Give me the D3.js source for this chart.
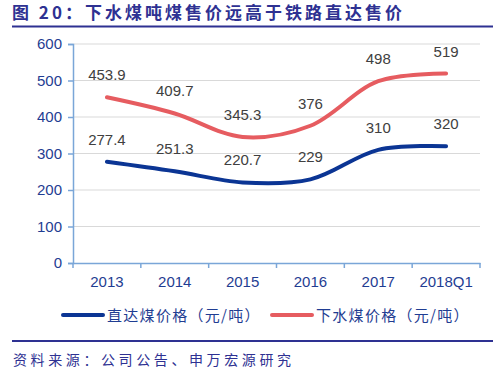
<!DOCTYPE html>
<html>
<head>
<meta charset="utf-8">
<script src="https://cdn.jsdelivr.net/npm/d3@7"></script>
<style>
  body { margin: 0; background: #fff; }
  svg { display: block; }
</style>
</head>
<body>
<svg id="chart"></svg>
<script>
// chart values
const years = ['2013', '2014', '2015', '2016', '2017', '2018Q1'];
const directPrice = [277.4, 251.3, 220.7, 229, 310, 320];
const seaPrice = [453.9, 409.7, 345.3, 376, 498, 519];
const directLabels = ['277.4', '251.3', '220.7', '229', '310', '320'];
const seaLabels = ['453.9', '409.7', '345.3', '376', '498', '519'];
const yTicks = [0, 100, 200, 300, 400, 500, 600];
const seriesNames = ['直达煤价格（元/吨）', '下水煤价格（元/吨）'];

const W = 501, H = 378,
  plot = { l: 73, r: 480, t: 44, b: 263 },
  blue = '#0b3594',
  red = '#e65c60',
  navy = '#2e3192',
  tickBlue = '#1f3d92',
  cjk = '"Noto Sans CJK SC", "Noto Sans", sans-serif',
  latin = '"Liberation Sans", Arial, sans-serif';

const $svg = d3.select('#chart').attr('width', W).attr('height', H);

// title + rules
$svg.append('text')
  .text('图 20：下水煤吨煤售价远高于铁路直达售价')
  .attr('x', 12).attr('y', 19)
  .attr('font-family', cjk)
  .attr('font-size', 17)
  .attr('font-weight', 'bold')
  .attr('letter-spacing', 3)
  .attr('fill', navy);
$svg.append('line')
  .attr('x1', 12).attr('x2', 493).attr('y1', 26.5).attr('y2', 26.5)
  .attr('stroke', navy).attr('stroke-width', 2);
$svg.append('line')
  .attr('x1', 12).attr('x2', 493).attr('y1', 341).attr('y2', 341)
  .attr('stroke', navy).attr('stroke-width', 2);
$svg.append('text')
  .text('资料来源：公司公告、申万宏源研究')
  .attr('x', 13).attr('y', 365)
  .attr('font-family', cjk)
  .attr('font-size', 14)
  .attr('letter-spacing', 3.6)
  .attr('fill', navy);

const xScale = d3.scaleBand().domain(years).range([plot.l, plot.r]),
  yScale = d3.scaleLinear().domain([0, 600]).range([plot.b, plot.t]);

// grid
$svg.append('g')
  .selectAll('line')
  .data(yTicks.filter((d) => d > 0))
  .enter()
  .append('line')
  .attr('x1', plot.l).attr('x2', plot.r)
  .attr('y1', (d) => yScale(d)).attr('y2', (d) => yScale(d))
  .attr('stroke', '#d9d9d9').attr('stroke-width', 1);

// y axis
const $yAxis = $svg.append('g')
  .attr('transform', 'translate(' + plot.l + ',0)')
  .call(d3.axisLeft(yScale).tickValues(yTicks).tickSize(5).tickPadding(6));
$yAxis.select('.domain').attr('stroke', '#7aa6d8').attr('stroke-width', 1.5);
$yAxis.selectAll('.tick line').attr('stroke', '#7aa6d8').attr('stroke-width', 1.5);
$yAxis.selectAll('.tick text')
  .attr('fill', tickBlue).attr('font-size', 15).attr('font-family', latin);

// x axis
const $xAxis = $svg.append('g')
  .attr('transform', 'translate(0,' + plot.b + ')')
  .call(d3.axisBottom(xScale).tickSize(0).tickPadding(13));
$xAxis.select('.domain').attr('stroke', '#7aa6d8').attr('stroke-width', 1.5);
$xAxis.selectAll('.tick text')
  .attr('fill', tickBlue).attr('font-size', 15).attr('font-family', latin);
$xAxis.selectAll('.sep')
  .data(d3.range(years.length + 1))
  .enter()
  .append('line')
  .attr('x1', (i) => plot.l + i * xScale.step())
  .attr('x2', (i) => plot.l + i * xScale.step())
  .attr('y1', 0).attr('y2', 5)
  .attr('stroke', '#7aa6d8').attr('stroke-width', 1.5);

const cx = (d, i) => xScale(years[i]) + xScale.bandwidth() / 2;
const line = d3.line()
  .x(cx)
  .y((d) => yScale(d))
  .curve(d3.curveCatmullRom.alpha(0.5));

[[seaPrice, red, seaLabels], [directPrice, blue, directLabels]].forEach(([vals, color, labels]) => {
  $svg.append('path')
    .datum(vals)
    .attr('d', line)
    .attr('fill', 'none')
    .attr('stroke', color)
    .attr('stroke-width', 4)
    .attr('stroke-linecap', 'round');
  $svg.append('g')
    .selectAll('text')
    .data(vals)
    .enter()
    .append('text')
    .text((d, i) => labels[i])
    .attr('x', cx)
    .attr('y', (d) => yScale(d) - 17)
    .attr('text-anchor', 'middle')
    .attr('font-size', 15)
    .attr('font-family', latin)
    .attr('fill', '#404040');
});

// legend
const legend = [
  { name: seriesNames[0], color: blue, x: 63 },
  { name: seriesNames[1], color: red, x: 272 }
];
const $legend = $svg.append('g').selectAll('g').data(legend).enter().append('g')
  .attr('transform', (d) => 'translate(' + d.x + ',315)');
$legend.append('line')
  .attr('x1', 0).attr('x2', 40).attr('y1', 0).attr('y2', 0)
  .attr('stroke', (d) => d.color).attr('stroke-width', 4)
  .attr('stroke-linecap', 'round');
$legend.append('text')
  .text((d) => d.name)
  .attr('x', 44).attr('y', 5.5)
  .attr('font-family', cjk)
  .attr('font-size', 15)
  .attr('letter-spacing', 1.3)
  .attr('fill', tickBlue);
</script>
</body>
</html>
